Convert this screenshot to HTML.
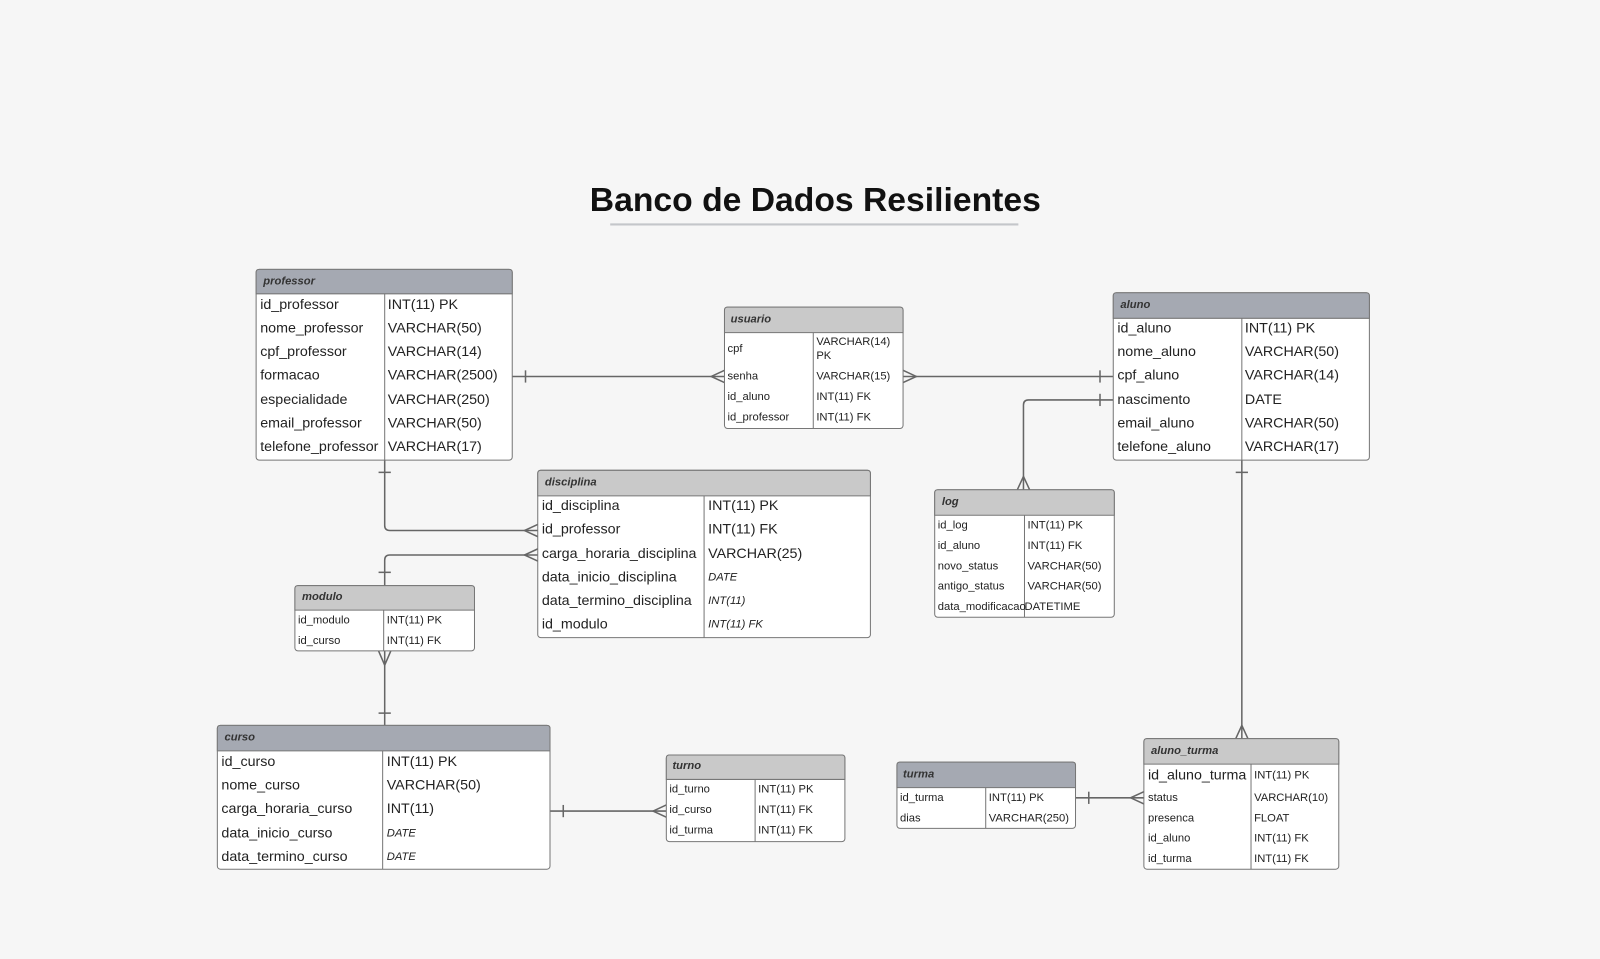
<!DOCTYPE html>
<html><head><meta charset="utf-8"><style>
html,body{margin:0;padding:0;background:#f6f6f6;width:1600px;height:959px;overflow:hidden}
svg{display:block}
text{font-family:"Liberation Sans",sans-serif;fill:#222}
.h{font-weight:bold;font-style:italic;font-size:11px;fill:#333}
.b{font-size:14px}
.s{font-size:11px}
.i{font-style:italic;font-size:11px}
</style></head><body>
<svg width="1600" height="959" viewBox="0 0 1568 940" preserveAspectRatio="none" xmlns="http://www.w3.org/2000/svg">
<rect width="1568" height="940" fill="#f6f6f6"/>
<text x="799" y="207" text-anchor="middle" style="font-weight:bold;font-size:33px;fill:#111" textLength="442" lengthAdjust="spacingAndGlyphs">Banco de Dados Resilientes</text>
<line x1="598" y1="220" x2="998" y2="220" stroke="#c4c6ca" stroke-width="2"/>

<g fill="none" stroke="#666" stroke-width="1.5">
<!-- professor-usuario -->
<line x1="502" y1="369" x2="710" y2="369"/><line x1="515" y1="363" x2="515" y2="375"/>
<polyline points="710,363 697,369 710,375"/>
<!-- usuario-aluno -->
<line x1="885" y1="369" x2="1091" y2="369"/><line x1="1078" y1="363" x2="1078" y2="375"/>
<polyline points="885,363 898,369 885,375"/>
<!-- aluno-log -->
<path d="M1091,392 H1008 Q1003,392 1003,397 V480"/><line x1="1078" y1="386" x2="1078" y2="398"/>
<polyline points="997,480 1003,467 1009,480"/>
<!-- professor-disciplina -->
<path d="M377,451 V515 Q377,520 382,520 H527"/><line x1="371" y1="463" x2="383" y2="463"/>
<polyline points="527,514 514,520 527,526"/>
<!-- disciplina-modulo -->
<path d="M527,544 H382 Q377,544 377,549 V574"/><line x1="371" y1="561" x2="383" y2="561"/>
<polyline points="527,538 514,544 527,550"/>
<!-- modulo-curso -->
<line x1="377" y1="638" x2="377" y2="711"/><line x1="371" y1="699" x2="383" y2="699"/>
<polyline points="371,638 377,652 383,638"/>
<!-- curso-turno -->
<line x1="539" y1="795" x2="653" y2="795"/><line x1="552" y1="789" x2="552" y2="801"/>
<polyline points="653,789 640,795 653,801"/>
<!-- aluno-aluno_turma -->
<line x1="1217" y1="451" x2="1217" y2="724"/><line x1="1211" y1="463" x2="1223" y2="463"/>
<polyline points="1211,724 1217,711 1223,724"/>
<!-- turma-aluno_turma -->
<line x1="1054" y1="782" x2="1121" y2="782"/><line x1="1067" y1="776" x2="1067" y2="788"/>
<polyline points="1121,776 1108,782 1121,788"/>
</g>

<!-- professor -->
<g>
<rect x="251" y="264" width="251" height="187" rx="3" fill="#fff" stroke="#777"/>
<path d="M254,264 H499 Q502,264 502,267 V288 H251 V267 Q251,264 254,264Z" fill="#a5a9b2" stroke="#777"/>
<line x1="377" y1="288" x2="377" y2="451" stroke="#777"/>
<text class="h" x="258" y="279">professor</text>
<text class="b" x="255" y="303">id_professor</text><text class="b" x="380" y="303">INT(11) PK</text>
<text class="b" x="255" y="326">nome_professor</text><text class="b" x="380" y="326">VARCHAR(50)</text>
<text class="b" x="255" y="349">cpf_professor</text><text class="b" x="380" y="349">VARCHAR(14)</text>
<text class="b" x="255" y="372">formacao</text><text class="b" x="380" y="372">VARCHAR(2500)</text>
<text class="b" x="255" y="396">especialidade</text><text class="b" x="380" y="396">VARCHAR(250)</text>
<text class="b" x="255" y="419">email_professor</text><text class="b" x="380" y="419">VARCHAR(50)</text>
<text class="b" x="255" y="442">telefone_professor</text><text class="b" x="380" y="442">VARCHAR(17)</text>
</g>

<!-- usuario -->
<g>
<rect x="710" y="301" width="175" height="119" rx="3" fill="#fff" stroke="#777"/>
<path d="M713,301 H882 Q885,301 885,304 V326 H710 V304 Q710,301 713,301Z" fill="#c9c9c9" stroke="#777"/>
<line x1="797" y1="326" x2="797" y2="420" stroke="#777"/>
<text class="h" x="716" y="316">usuario</text>
<text class="s" x="713" y="345">cpf</text><text class="s" x="800" y="338">VARCHAR(14)</text><text class="s" x="800" y="352">PK</text>
<text class="s" x="713" y="372">senha</text><text class="s" x="800" y="372">VARCHAR(15)</text>
<text class="s" x="713" y="392">id_aluno</text><text class="s" x="800" y="392">INT(11) FK</text>
<text class="s" x="713" y="412">id_professor</text><text class="s" x="800" y="412">INT(11) FK</text>
</g>

<!-- aluno -->
<g>
<rect x="1091" y="287" width="251" height="164" rx="3" fill="#fff" stroke="#777"/>
<path d="M1094,287 H1339 Q1342,287 1342,290 V312 H1091 V290 Q1091,287 1094,287Z" fill="#a5a9b2" stroke="#777"/>
<line x1="1217" y1="312" x2="1217" y2="451" stroke="#777"/>
<text class="h" x="1098" y="302">aluno</text>
<text class="b" x="1095" y="326">id_aluno</text><text class="b" x="1220" y="326">INT(11) PK</text>
<text class="b" x="1095" y="349">nome_aluno</text><text class="b" x="1220" y="349">VARCHAR(50)</text>
<text class="b" x="1095" y="372">cpf_aluno</text><text class="b" x="1220" y="372">VARCHAR(14)</text>
<text class="b" x="1095" y="396">nascimento</text><text class="b" x="1220" y="396">DATE</text>
<text class="b" x="1095" y="419">email_aluno</text><text class="b" x="1220" y="419">VARCHAR(50)</text>
<text class="b" x="1095" y="442">telefone_aluno</text><text class="b" x="1220" y="442">VARCHAR(17)</text>
</g>

<!-- disciplina -->
<g>
<rect x="527" y="461" width="326" height="164" rx="3" fill="#fff" stroke="#777"/>
<path d="M530,461 H850 Q853,461 853,464 V486 H527 V464 Q527,461 530,461Z" fill="#c9c9c9" stroke="#777"/>
<line x1="690" y1="486" x2="690" y2="625" stroke="#777"/>
<text class="h" x="534" y="476">disciplina</text>
<text class="b" x="531" y="500">id_disciplina</text><text class="b" x="694" y="500">INT(11) PK</text>
<text class="b" x="531" y="523">id_professor</text><text class="b" x="694" y="523">INT(11) FK</text>
<text class="b" x="531" y="547">carga_horaria_disciplina</text><text class="b" x="694" y="547">VARCHAR(25)</text>
<text class="b" x="531" y="570">data_inicio_disciplina</text><text class="i" x="694" y="569">DATE</text>
<text class="b" x="531" y="593">data_termino_disciplina</text><text class="i" x="694" y="592">INT(11)</text>
<text class="b" x="531" y="616">id_modulo</text><text class="i" x="694" y="615">INT(11) FK</text>
</g>

<!-- log -->
<g>
<rect x="916" y="480" width="176" height="125" rx="3" fill="#fff" stroke="#777"/>
<path d="M919,480 H1089 Q1092,480 1092,483 V505 H916 V483 Q916,480 919,480Z" fill="#c9c9c9" stroke="#777"/>
<line x1="1004" y1="505" x2="1004" y2="605" stroke="#777"/>
<text class="h" x="923" y="495">log</text>
<text class="s" x="919" y="518">id_log</text><text class="s" x="1007" y="518">INT(11) PK</text>
<text class="s" x="919" y="538">id_aluno</text><text class="s" x="1007" y="538">INT(11) FK</text>
<text class="s" x="919" y="558">novo_status</text><text class="s" x="1007" y="558">VARCHAR(50)</text>
<text class="s" x="919" y="578">antigo_status</text><text class="s" x="1007" y="578">VARCHAR(50)</text>
<text class="s" x="919" y="598">data_modificacao</text><text class="s" x="1004" y="598" style="paint-order:stroke">DATETIME</text>
</g>

<!-- modulo -->
<g>
<rect x="289" y="574" width="176" height="64" rx="3" fill="#fff" stroke="#777"/>
<path d="M292,574 H462 Q465,574 465,577 V598 H289 V577 Q289,574 292,574Z" fill="#c9c9c9" stroke="#777"/>
<line x1="376" y1="598" x2="376" y2="638" stroke="#777"/>
<text class="h" x="296" y="588">modulo</text>
<text class="s" x="292" y="611">id_modulo</text><text class="s" x="379" y="611">INT(11) PK</text>
<text class="s" x="292" y="631">id_curso</text><text class="s" x="379" y="631">INT(11) FK</text>
</g>

<!-- curso -->
<g>
<rect x="213" y="711" width="326" height="141" rx="3" fill="#fff" stroke="#777"/>
<path d="M216,711 H536 Q539,711 539,714 V736 H213 V714 Q213,711 216,711Z" fill="#a5a9b2" stroke="#777"/>
<line x1="375" y1="736" x2="375" y2="852" stroke="#777"/>
<text class="h" x="220" y="726">curso</text>
<text class="b" x="217" y="751">id_curso</text><text class="b" x="379" y="751">INT(11) PK</text>
<text class="b" x="217" y="774">nome_curso</text><text class="b" x="379" y="774">VARCHAR(50)</text>
<text class="b" x="217" y="797">carga_horaria_curso</text><text class="b" x="379" y="797">INT(11)</text>
<text class="b" x="217" y="821">data_inicio_curso</text><text class="i" x="379" y="820">DATE</text>
<text class="b" x="217" y="844">data_termino_curso</text><text class="i" x="379" y="843">DATE</text>
</g>

<!-- turno -->
<g>
<rect x="653" y="740" width="175" height="85" rx="3" fill="#fff" stroke="#777"/>
<path d="M656,740 H825 Q828,740 828,743 V764 H653 V743 Q653,740 656,740Z" fill="#c9c9c9" stroke="#777"/>
<line x1="740" y1="764" x2="740" y2="825" stroke="#777"/>
<text class="h" x="659" y="754">turno</text>
<text class="s" x="656" y="777">id_turno</text><text class="s" x="743" y="777">INT(11) PK</text>
<text class="s" x="656" y="797">id_curso</text><text class="s" x="743" y="797">INT(11) FK</text>
<text class="s" x="656" y="817">id_turma</text><text class="s" x="743" y="817">INT(11) FK</text>
</g>

<!-- turma -->
<g>
<rect x="879" y="747" width="175" height="65" rx="3" fill="#fff" stroke="#777"/>
<path d="M882,747 H1051 Q1054,747 1054,750 V772 H879 V750 Q879,747 882,747Z" fill="#a5a9b2" stroke="#777"/>
<line x1="966" y1="772" x2="966" y2="812" stroke="#777"/>
<text class="h" x="885" y="762">turma</text>
<text class="s" x="882" y="785">id_turma</text><text class="s" x="969" y="785">INT(11) PK</text>
<text class="s" x="882" y="805">dias</text><text class="s" x="969" y="805">VARCHAR(250)</text>
</g>

<!-- aluno_turma -->
<g>
<rect x="1121" y="724" width="191" height="128" rx="3" fill="#fff" stroke="#777"/>
<path d="M1124,724 H1309 Q1312,724 1312,727 V749 H1121 V727 Q1121,724 1124,724Z" fill="#c9c9c9" stroke="#777"/>
<line x1="1226" y1="749" x2="1226" y2="852" stroke="#777"/>
<text class="h" x="1128" y="739">aluno_turma</text>
<text class="b" x="1125" y="764">id_aluno_turma</text><text class="s" x="1229" y="763">INT(11) PK</text>
<text class="s" x="1125" y="785">status</text><text class="s" x="1229" y="785">VARCHAR(10)</text>
<text class="s" x="1125" y="805">presenca</text><text class="s" x="1229" y="805">FLOAT</text>
<text class="s" x="1125" y="825">id_aluno</text><text class="s" x="1229" y="825">INT(11) FK</text>
<text class="s" x="1125" y="845">id_turma</text><text class="s" x="1229" y="845">INT(11) FK</text>
</g>
</svg>
</body></html>
